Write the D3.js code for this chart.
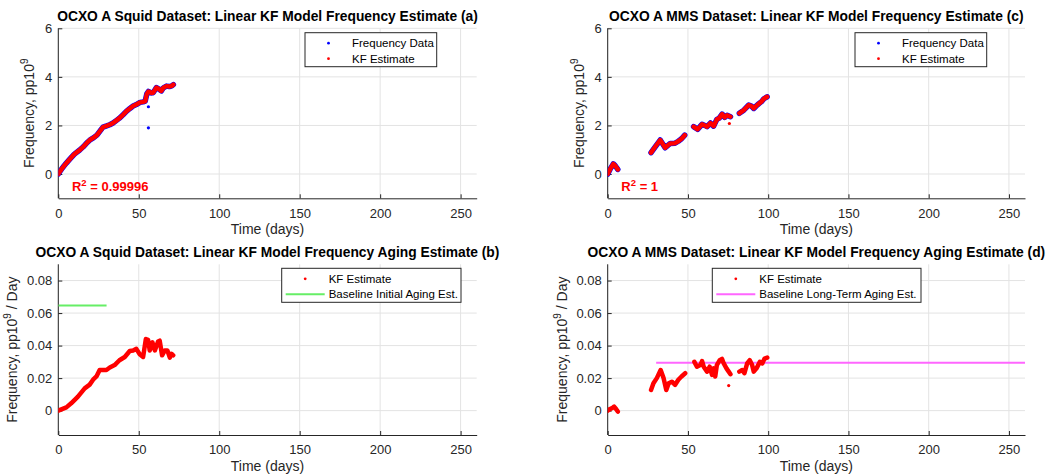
<!DOCTYPE html>
<html>
<head>
<meta charset="utf-8">
<script src="https://cdn.jsdelivr.net/npm/d3@7"></script>
<style>
  body { margin: 0; background: #fff; }
  svg { font-family: "Liberation Sans", Arial, Helvetica, sans-serif; }
</style>
</head>
<body>
<svg id="chart" width="1050" height="474"></svg>
<script>
// ---- data ----
let squidT    = [0, 1, 2, 3.5, 5, 7, 10, 13.3, 15.5, 18, 20, 22, 24, 25.9, 27.8, 30, 32, 34, 36, 38, 40.4, 42.3, 44.5, 46.5, 48.5, 50.8, 52.7, 54, 55, 56, 57.9, 59, 61, 62.5, 64, 65.3, 67.2, 69, 70.5, 71.5]
let squidFreq = [0, 0.1, 0.2, 0.33, 0.45, 0.6, 0.82, 0.99, 1.12, 1.3, 1.42, 1.5, 1.6, 1.77, 1.93, 1.98, 2.03, 2.1, 2.2, 2.3, 2.45, 2.58, 2.7, 2.8, 2.86, 2.95, 2.97, 3.0, 3.3, 3.4, 3.34, 3.35, 3.56, 3.5, 3.42, 3.55, 3.62, 3.6, 3.63, 3.68]
let squidOutT    = [56, 56]
let squidOutFreq = [2.77, 1.9]

let mmsT    = [0, 1.5, 3.5, 4.6, 6.3, null, 27, 29.6, 32.7, 35.8, 37.5, 39, 42, 44, 46, 48, null,
               53.5, 56, 57.5, 58.8, 60.5, 61.9, 64, 66, 68, 69.5, 71.3, 72.9, 74.4, 76.5, null,
               82, 84.8, 87.9, 89.5, 91, 92.5, 94.2, 95.8, 97.3, 99.3]
let mmsFreq = [0, 0.2, 0.42, 0.35, 0.19, null, 0.88, 1.12, 1.4, 1.08, 1.18, 1.26, 1.27, 1.35, 1.45, 1.6, null,
               1.95, 1.84, 1.95, 2.05, 2.0, 1.95, 2.1, 1.97, 2.25, 2.3, 2.47, 2.33, 2.42, 2.36, null,
               2.5, 2.63, 2.84, 2.8, 2.7, 2.8, 2.9, 2.98, 3.1, 3.18]
let mmsOutT    = [75.8]
let mmsOutFreq = [2.08]

let squidAgingT = [0, 5, 8, 12.2, 16.4, 19.5, 21.6, 23.7, 25.7, 27.8, 29.9, 32, 35, 38, 41.3, 44.4, 46.5, 48.5, 50.6, 52.7, 54.4, 55.8, 56.8, 58.5, 60, 62, 63, 64.5, 66.2, 67.8, 69.3, 70.3, 71.4]
let squidAging  = [0, 0.002, 0.0045, 0.0086, 0.0137, 0.016, 0.019, 0.021, 0.025, 0.025, 0.025, 0.0265, 0.028, 0.031, 0.033, 0.0367, 0.037, 0.038, 0.0347, 0.033, 0.044, 0.0435, 0.037, 0.042, 0.037, 0.0425, 0.043, 0.034, 0.037, 0.037, 0.0326, 0.035, 0.034]

let mmsAgingT = [0, 1.5, 3.1, 4, 5.2, 6.3, null,
                 27, 28.5, 30.6, 33, 34.8, 36.5, 38, 40, 42, 44, 46, 48.3, null,
                 54, 55.6, 57.7, 58.8, 59.8, 61.9, 63.5, 65, 66, 67, 68, 69.8, 71.2, 72.3, 74, 75.4, 76.5, null,
                 82, 83.8, 85.2, 86.9, 88.5, 90, 91, 92.7, 94.8, 96.3, 97.7, 99.4]
let mmsAging  = [0, 0.001, 0.0018, 0.0025, 0.001, -0.0006, null,
                 0.0127, 0.0168, 0.02, 0.025, 0.02, 0.0127, 0.0168, 0.0178, 0.0158, 0.019, 0.021, 0.023, null,
                 0.03, 0.027, 0.028, 0.0305, 0.027, 0.024, 0.027, 0.022, 0.026, 0.021, 0.028, 0.031, 0.0318, 0.029, 0.026, 0.024, 0.0224, null,
                 0.024, 0.025, 0.023, 0.029, 0.031, 0.028, 0.024, 0.026, 0.03, 0.029, 0.032, 0.0326]
let mmsAgingOutT = [75.4]
let mmsAgingOut  = [0.0154]

let initialAging  = { t: [0, 30], v: 0.0646 }
let longTermAging = { t: [30.2, 260], v: 0.0295 }

let xTicks = [0, 50, 100, 150, 200, 250]
let freqTicks = [0, 2, 4, 6]
let agingTicks = [0, 0.02, 0.04, 0.06, 0.08]

// ---- drawing ----
let svg = d3.select('#chart')
let ink = '#262626'

let zip = (ts, vs) => ts.map((t, i) => ({ t: t, v: vs[i] }))

function drawPanel(p) {
  let x = d3.scaleLinear().domain([0, 260]).range([p.left, p.right])
  let y = d3.scaleLinear().domain(p.yDomain).range([p.bottom, p.top])
  let g = svg.append('g')

  // grid
  g.selectAll('.vg').data(xTicks).enter().append('line')
    .attr('x1', d => x(d)).attr('x2', d => x(d))
    .attr('y1', p.top).attr('y2', p.bottom)
    .attr('stroke', '#e3e3e3')
  g.selectAll('.hg').data(p.yTicks).enter().append('line')
    .attr('x1', p.left).attr('x2', p.right)
    .attr('y1', d => y(d)).attr('y2', d => y(d))
    .attr('stroke', '#e3e3e3')

  // axes
  let xa = g.append('g')
    .attr('transform', 'translate(0,' + p.bottom + ')')
    .call(d3.axisBottom(x).tickValues(xTicks).tickSizeInner(-4).tickSizeOuter(0).tickPadding(10))
  let ya = g.append('g')
    .attr('transform', 'translate(' + p.left + ',0)')
    .call(d3.axisLeft(y).tickValues(p.yTicks).tickSizeInner(-4).tickSizeOuter(0).tickPadding(6)
      .tickFormat(p.tickFormat))
  ;[xa, ya].forEach(a => {
    a.select('.domain').attr('stroke', ink)
    a.selectAll('.tick line').attr('stroke', ink)
    a.selectAll('.tick text').attr('fill', ink).style('font-size', '13px').style('font-family', null)
  })
  ya.select('.domain').attr('d', 'M0,' + p.top + 'V' + p.bottom)

  // series
  let line = d3.line().defined(d => d.v !== null).x(d => x(d.t)).y(d => y(d.v))
  let clip = 'clip' + p.id
  g.append('clipPath').attr('id', clip).append('rect')
    .attr('x', p.left).attr('y', p.top).attr('width', p.right - p.left).attr('height', p.bottom - p.top)
  let plot = g.append('g').attr('clip-path', 'url(#' + clip + ')')

  if (p.ref) {
    plot.append('path').datum(zip(p.ref.t, p.ref.t.map(() => p.ref.v)))
      .attr('d', line).attr('fill', 'none').attr('stroke', p.refColor).attr('stroke-width', 2)
  }
  if (p.raw) {
    plot.append('path').datum(p.raw).attr('d', line).attr('fill', 'none')
      .attr('stroke', '#0000ff').attr('stroke-width', 5.5).attr('stroke-linejoin', 'round').attr('stroke-linecap', 'round')
  }
  if (p.rawOut) {
    plot.selectAll('.ro').data(p.rawOut).enter().append('circle')
      .attr('cx', d => x(d.t)).attr('cy', d => y(d.v)).attr('r', 1.6).attr('fill', '#0000ff')
  }
  plot.append('path').datum(p.kf).attr('d', line).attr('fill', 'none')
    .attr('stroke', '#ff0000').attr('stroke-width', 4.5).attr('stroke-linejoin', 'round').attr('stroke-linecap', 'round')
  if (p.kfOut) {
    plot.selectAll('.ko').data(p.kfOut).enter().append('circle')
      .attr('cx', d => x(d.t)).attr('cy', d => y(d.v)).attr('r', 1.6).attr('fill', '#ff0000')
  }

  // title and labels
  let cx = (p.left + p.right) / 2
  g.append('text').attr('x', cx).attr('y', p.top - 7).attr('text-anchor', 'middle')
    .style('font-size', '13.8px').style('font-weight', 'bold').attr('fill', '#000').text(p.title)
  g.append('text').attr('x', cx).attr('y', p.bottom + 36).attr('text-anchor', 'middle')
    .style('font-size', '14px').attr('fill', ink).text('Time (days)')
  let yl = g.append('text')
    .attr('transform', 'translate(' + (p.left - p.ylabelOff) + ',' + ((p.top + p.bottom) / 2) + ') rotate(-90)')
    .attr('text-anchor', 'middle').style('font-size', '14px').attr('fill', ink)
  yl.append('tspan').text('Frequency, pp10')
  yl.append('tspan').attr('dy', -6).style('font-size', '10px').text('9')
  if (p.ylabelTail) yl.append('tspan').attr('dy', 6).text(p.ylabelTail)

  if (p.r2) {
    let r = g.append('text').attr('x', x(8.5)).attr('y', p.bottom - 7)
      .style('font-size', '13px').style('font-weight', 'bold').attr('fill', '#ff0000')
    r.append('tspan').text('R')
    r.append('tspan').attr('dy', -5).style('font-size', '9.5px').text('2')
    r.append('tspan').attr('dy', 5).text(' = ' + p.r2)
  }

  // legend
  let L = p.legend
  g.append('rect').attr('x', L.x).attr('y', L.y).attr('width', L.w).attr('height', 34)
    .attr('fill', '#fff').attr('stroke', ink).attr('stroke-width', 1)
  L.items.forEach((it, i) => {
    let ly = L.y + 10.5 + i * 15.5
    if (it.kind === 'dot') {
      g.append('circle').attr('cx', L.x + 23.5).attr('cy', ly).attr('r', 1.4).attr('fill', it.color)
    } else {
      g.append('line').attr('x1', L.x + 4).attr('x2', L.x + 43).attr('y1', ly).attr('y2', ly)
        .attr('stroke', it.color).attr('stroke-width', 2)
    }
    g.append('text').attr('x', L.x + 47).attr('y', ly + 4).style('font-size', '11.5px')
      .attr('fill', '#000').text(it.label)
  })
}

let fmtFreq = d3.format('d')
let fmtAging = d => d === 0 ? '0' : d3.format('.2f')(d)

drawPanel({
  id: 'a', left: 58.3, right: 476.7, top: 28.3, bottom: 198.3,
  yDomain: [-1, 6], yTicks: freqTicks, tickFormat: fmtFreq, ylabelOff: 24,
  title: 'OCXO A Squid Dataset: Linear KF Model Frequency Estimate (a)',
  raw: zip(squidT, squidFreq), rawOut: zip(squidOutT, squidOutFreq),
  kf: zip(squidT, squidFreq), r2: '0.99996',
  legend: { x: 305, y: 32.7, w: 131.7, items: [
    { kind: 'dot', color: '#0000ff', label: 'Frequency Data' },
    { kind: 'dot', color: '#ff0000', label: 'KF Estimate' }] }
})
drawPanel({
  id: 'c', left: 607.7, right: 1025, top: 28.3, bottom: 198.3,
  yDomain: [-1, 6], yTicks: freqTicks, tickFormat: fmtFreq, ylabelOff: 24,
  title: 'OCXO A MMS Dataset: Linear KF Model Frequency Estimate (c)',
  raw: zip(mmsT, mmsFreq), kf: zip(mmsT, mmsFreq), kfOut: zip(mmsOutT, mmsOutFreq), r2: '1',
  legend: { x: 855, y: 32.7, w: 131.7, items: [
    { kind: 'dot', color: '#0000ff', label: 'Frequency Data' },
    { kind: 'dot', color: '#ff0000', label: 'KF Estimate' }] }
})
drawPanel({
  id: 'b', left: 58.3, right: 476.7, top: 264.3, bottom: 435,
  yDomain: [-0.015, 0.09], yTicks: agingTicks, tickFormat: fmtAging, ylabelOff: 41, ylabelTail: ' / Day',
  title: 'OCXO A Squid Dataset: Linear KF Model Frequency Aging Estimate (b)',
  kf: zip(squidAgingT, squidAging), ref: initialAging, refColor: '#66ee66',
  legend: { x: 281.7, y: 268.3, w: 179.3, items: [
    { kind: 'dot', color: '#ff0000', label: 'KF Estimate' },
    { kind: 'line', color: '#66ee66', label: 'Baseline Initial Aging Est.' }] }
})
drawPanel({
  id: 'd', left: 607.7, right: 1025, top: 264.3, bottom: 435,
  yDomain: [-0.015, 0.09], yTicks: agingTicks, tickFormat: fmtAging, ylabelOff: 41, ylabelTail: ' / Day',
  title: 'OCXO A MMS Dataset: Linear KF Model Frequency Aging Estimate (d)',
  kf: zip(mmsAgingT, mmsAging), kfOut: zip(mmsAgingOutT, mmsAgingOut), ref: longTermAging, refColor: '#ff66ff',
  legend: { x: 712.3, y: 268.3, w: 208.7, items: [
    { kind: 'dot', color: '#ff0000', label: 'KF Estimate' },
    { kind: 'line', color: '#ff66ff', label: 'Baseline Long-Term Aging Est.' }] }
})
</script>
</body>
</html>
